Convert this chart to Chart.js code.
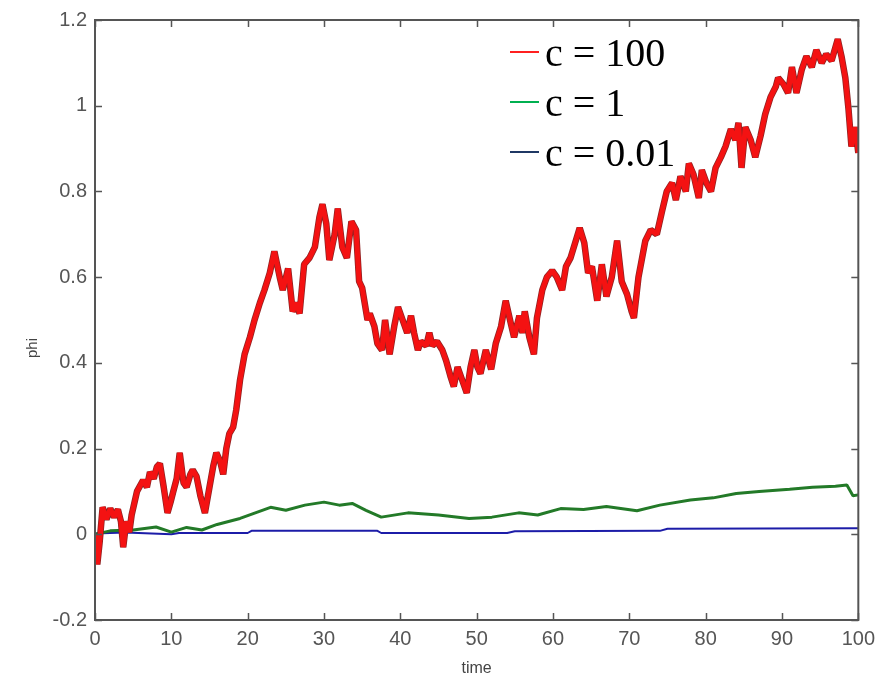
<!DOCTYPE html>
<html lang="en">
<head>
    <meta charset="UTF-8">
    <title>phi vs time</title>
    <script src="https://cdn.jsdelivr.net/npm/chart.js"></script>
    <style>
        body { margin: 0; background: #fff; }
        .wrap { position: relative; width: 882px; height: 684px; }
        /* legend sits inside the plot, top right */
        .legend-row {
            position: absolute;
            left: 510px;
            height: 50px;
            line-height: 50px;
            font-family: "Liberation Serif", "Times New Roman", serif;
            font-size: 40px;
            color: #000;
            white-space: nowrap;
        }
        .legend-row i {
            display: inline-block;
            width: 29px;
            height: 2px;
            margin-right: 6px;
            vertical-align: 13px;
        }
    </style>
</head>
<body>
<div class="wrap">
    <canvas id="plot" width="882" height="684"></canvas>
    <div id="legend"></div>
</div>

<script>
    const seriesNames = ['c = 100', 'c = 1', 'c = 0.01'];
    const lineColors = ['#f41212', '#237a28', '#1c1ca8'];
    const legendColors = ['#ff2020', '#00b050', '#1f3864'];

    // c = 100
    const timeRed = [0, 0.3, 0.6, 1.0, 1.5, 2.0, 2.5, 3.0, 3.4, 3.7, 4.1, 4.5, 4.8, 5.5, 6.3, 6.8, 7.2, 7.7, 8.1, 8.5,
        9.0, 9.5, 9.9, 10.2, 10.7, 11.1, 11.6, 12.0, 12.5, 12.8, 13.3, 13.8, 14.4, 15.0, 15.5, 15.9, 16.4, 16.8, 17.2, 17.6,
        18.1, 18.5, 19.0, 19.6, 20.3, 20.9, 21.6, 22.2, 22.9, 23.5, 24.2, 24.6, 25.3, 25.9, 26.4, 26.8, 27.4, 28.1, 28.8, 29.4,
        29.8, 30.3, 30.7, 31.4, 31.8, 32.4, 33.0, 33.6, 34.2, 34.6, 35.0, 35.7, 36.0, 36.6, 37.0, 37.6, 38.0, 38.6, 39.2, 39.7,
        40.3, 40.9, 41.4, 41.8, 42.3, 42.7, 43.4, 43.8, 44.2, 44.8, 45.5, 46.0, 46.6, 47.0, 47.5, 48.1, 48.7, 49.2, 49.7, 50.1,
        50.5, 51.2, 51.9, 52.5, 53.2, 53.8, 54.5, 54.9, 55.6, 56.0, 56.3, 56.9, 57.5, 57.9, 58.6, 59.2, 59.9, 60.5, 61.2, 61.7,
        62.3, 62.9, 63.5, 64.1, 64.6, 65.1, 65.8, 66.4, 67.0, 67.7, 68.4, 69.0, 69.7, 70.3, 70.6, 71.2, 72.1, 72.8, 73.6, 74.3,
        74.9, 75.6, 76.1, 76.7, 77.4, 77.8, 78.4, 79.1, 79.5, 80.1, 80.7, 81.3, 82.0, 82.6, 83.3, 83.9, 84.3, 84.7, 85.2, 85.9,
        86.5, 87.2, 87.8, 88.5, 89.2, 89.5, 90.2, 90.8, 91.3, 91.9, 92.6, 93.2, 93.9, 94.5, 95.2, 95.8, 96.5, 97.3, 97.8, 98.3,
        98.7, 99.1, 99.6, 100];
    const phiRed = [0, -0.07, -0.02, 0.063, 0.035, 0.06, 0.04, 0.058, 0.03, -0.03, 0.03, 0.005, 0.045, 0.10, 0.126, 0.11, 0.145, 0.13, 0.157, 0.165,
        0.11, 0.05, 0.075, 0.096, 0.13, 0.19, 0.12, 0.11, 0.14, 0.15, 0.135, 0.09, 0.05, 0.11, 0.16, 0.19, 0.17, 0.14, 0.20, 0.235,
        0.25, 0.29, 0.36, 0.42, 0.46, 0.50, 0.54, 0.57, 0.61, 0.66, 0.60, 0.57, 0.62, 0.52, 0.54, 0.515, 0.63, 0.645, 0.67, 0.74,
        0.77, 0.725, 0.64, 0.70, 0.76, 0.67, 0.645, 0.73, 0.71, 0.59, 0.575, 0.50, 0.515, 0.485, 0.445, 0.43, 0.50, 0.42, 0.485, 0.53,
        0.50, 0.47, 0.51, 0.47, 0.43, 0.45, 0.44, 0.47, 0.44, 0.45, 0.43, 0.405, 0.367, 0.345, 0.39, 0.36, 0.33, 0.39, 0.43, 0.39,
        0.375, 0.43, 0.385, 0.445, 0.485, 0.545, 0.49, 0.46, 0.51, 0.47, 0.52, 0.46, 0.42, 0.505, 0.57, 0.60, 0.615, 0.60, 0.57, 0.625,
        0.645, 0.68, 0.715, 0.68, 0.61, 0.625, 0.545, 0.63, 0.555, 0.60, 0.685, 0.59, 0.56, 0.52, 0.505, 0.60, 0.685, 0.71, 0.70, 0.755,
        0.80, 0.82, 0.78, 0.835, 0.80, 0.865, 0.84, 0.785, 0.85, 0.82, 0.80, 0.855, 0.88, 0.905, 0.945, 0.92, 0.96, 0.855, 0.95, 0.92,
        0.88, 0.93, 0.98, 1.02, 1.045, 1.065, 1.05, 1.03, 1.09, 1.03, 1.085, 1.115, 1.09, 1.13, 1.10, 1.12, 1.105, 1.155, 1.115, 1.065,
        0.995, 0.905, 0.95, 0.89];

    // c = 1
    const timeGreen = [0, 2, 5, 8, 10, 12, 14, 16, 19, 21, 23, 25, 27.5, 30, 32, 33.7, 35.5, 37.5, 41, 45,
        49, 52, 55.5, 58, 61, 64, 67, 71, 74, 78, 81, 84, 87, 91, 94, 97, 98.5, 99.3, 100];
    const phiGreen = [0, 0.008, 0.01, 0.017, 0.005, 0.016, 0.01, 0.023, 0.037, 0.05, 0.063, 0.056, 0.068, 0.075, 0.068, 0.072, 0.056, 0.04, 0.05, 0.045,
        0.037, 0.04, 0.05, 0.045, 0.06, 0.058, 0.065, 0.055, 0.068, 0.08, 0.085, 0.095, 0.10, 0.105, 0.11, 0.112, 0.115, 0.09, 0.092];

    // c = 0.01
    const timeBlue = [0, 4, 10, 11, 20, 20.5, 37, 37.5, 54, 55, 74, 75, 100];
    const phiBlue = [0.002, 0.004, 0, 0.003, 0.003, 0.008, 0.008, 0.003, 0.003, 0.007, 0.008, 0.013, 0.014];

    const yTicks = [-0.2, 0, 0.2, 0.4, 0.6, 0.8, 1, 1.2];
    const xTicks = [0, 10, 20, 30, 40, 50, 60, 70, 80, 90, 100];

    function toPoints(xs, ys) {
        return xs.map((x, i) => ({ x: x, y: ys[i] }));
    }

    // box around the plot with inward ticks on all four sides, plus the y title
    const frameTicks = {
        id: 'frameTicks',
        afterDraw(chart) {
            const { ctx, chartArea: a, scales } = chart;
            ctx.save();
            ctx.strokeStyle = '#555';
            ctx.lineWidth = 2;
            ctx.strokeRect(a.left, a.top, a.right - a.left, a.bottom - a.top);
            ctx.lineWidth = 1.5;
            ctx.beginPath();
            xTicks.forEach(v => {
                const px = Math.round(scales.x.getPixelForValue(v)) + 0.5;
                ctx.moveTo(px, a.bottom); ctx.lineTo(px, a.bottom - 7);
                ctx.moveTo(px, a.top); ctx.lineTo(px, a.top + 7);
            });
            yTicks.forEach(v => {
                const py = Math.round(scales.y.getPixelForValue(v)) + 0.5;
                ctx.moveTo(a.left, py); ctx.lineTo(a.left + 7, py);
                ctx.moveTo(a.right, py); ctx.lineTo(a.right - 7, py);
            });
            ctx.stroke();

            ctx.translate(33, 348);
            ctx.rotate(-Math.PI / 2);
            ctx.fillStyle = '#444';
            ctx.font = '15px "Liberation Sans", Arial, sans-serif';
            ctx.textAlign = 'center';
            ctx.textBaseline = 'middle';
            ctx.fillText('phi', 0, 0);
            ctx.restore();
        }
    };

    const redPoints = toPoints(timeRed, phiRed);

    // Chart.js paints the first dataset on top, so red comes first
    const ctx = document.getElementById('plot').getContext('2d');
    const chart = new Chart(ctx, {
        type: 'line',
        data: {
            datasets: [
                { label: seriesNames[0], data: redPoints, borderColor: lineColors[0], borderWidth: 5 },
                // dark rim under the red trace
                { label: 'rim', data: redPoints, borderColor: '#8e2222', borderWidth: 6.5 },
                { label: seriesNames[1], data: toPoints(timeGreen, phiGreen), borderColor: lineColors[1], borderWidth: 3 },
                { label: seriesNames[2], data: toPoints(timeBlue, phiBlue), borderColor: lineColors[2], borderWidth: 2 }
            ]
        },
        options: {
            responsive: false,
            animation: false,
            events: [],
            elements: { point: { radius: 0 }, line: { tension: 0, borderJoinStyle: 'bevel' } },
            layout: { padding: { top: 20, right: 22, left: 0, bottom: 0 } },
            plugins: { legend: { display: false }, tooltip: { enabled: false } },
            scales: {
                x: {
                    type: 'linear',
                    min: 0, max: 100,
                    afterBuildTicks: s => { s.ticks = xTicks.map(v => ({ value: v })); },
                    afterFit: s => { s.height = 64; },
                    grid: { display: false, drawTicks: false },
                    border: { display: false },
                    ticks: {
                        padding: 7,
                        maxRotation: 0,
                        color: '#555',
                        font: { family: '"Liberation Sans", Arial, sans-serif', size: 20 }
                    },
                    title: {
                        display: true,
                        text: 'time',
                        color: '#444',
                        padding: { top: 0, bottom: 6 },
                        font: { family: '"Liberation Sans", Arial, sans-serif', size: 16 }
                    }
                },
                y: {
                    min: -0.2, max: 1.2,
                    afterBuildTicks: s => { s.ticks = yTicks.map(v => ({ value: v })); },
                    afterFit: s => { s.width = 95; },
                    grid: { display: false, drawTicks: false },
                    border: { display: false },
                    ticks: {
                        padding: 8,
                        color: '#555',
                        callback: v => String(+v.toFixed(1)),
                        font: { family: '"Liberation Sans", Arial, sans-serif', size: 20 }
                    }
                }
            }
        },
        plugins: [frameTicks]
    });

    // legend drawn over the upper right of the plot
    const legend = document.getElementById('legend');
    seriesNames.forEach((name, i) => {
        const row = document.createElement('div');
        row.className = 'legend-row';
        row.style.top = (28 + i * 50) + 'px';
        row.innerHTML = '<i style="background:' + legendColors[i] + '"></i>' + name;
        legend.appendChild(row);
    });
</script>
</body>
</html>
